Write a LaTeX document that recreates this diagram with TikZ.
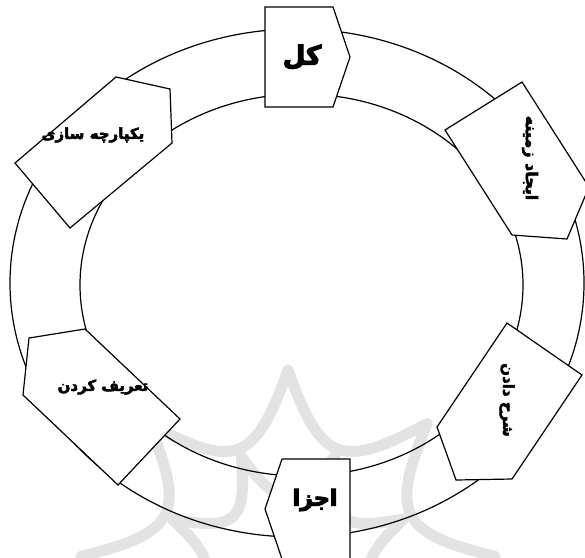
\documentclass[tikz,border=0pt]{standalone}
\usepackage{fontspec}
\usetikzlibrary{calc}
\newfontfamily\arabicfont[Script=Arabic,FakeBold=3.2]{DejaVu Sans Bold}
\newfontfamily\arabicbig[Script=Arabic,FakeBold=5]{DejaVu Sans Bold}
\TeXXeTstate=1
\tikzset{
  ring/.style={draw=black, line width=1.2pt},
  chevbox/.style={draw=black, fill=white, line width=1.2pt, line join=miter},
  lbl/.style={inner sep=0pt},
  wmark/.style={draw=black!11, line width=11pt, line join=round, line cap=round},
}
\newcommand{\lblfont}[1]{\arabicfont\fontsize{#1}{#1}\selectfont}
\newcommand{\lblbig}[1]{\arabicbig\fontsize{#1}{#1}\selectfont}
\begin{document}
\begin{tikzpicture}[x=1pt,y=-1pt]
\useasboundingbox (0,0) rectangle (585,557);
% faint background watermark (scalloped rosette)
\coordinate (wc) at (288,578);
\draw[wmark]
  ($(wc)+(-90-126:208)$) .. controls ($(wc)+(-90-110:120)$) and ($(wc)+(-90-100:120)$) ..
  ($(wc)+(-90-84:208)$) .. controls ($(wc)+(-90-68:120)$) and ($(wc)+(-90-58:120)$) ..
  ($(wc)+(-90-42:208)$) .. controls ($(wc)+(-90-26:120)$) and ($(wc)+(-90-16:120)$) ..
  ($(wc)+(-90:208)$) .. controls ($(wc)+(-90+16:120)$) and ($(wc)+(-90+26:120)$) ..
  ($(wc)+(-90+42:208)$) .. controls ($(wc)+(-90+58:120)$) and ($(wc)+(-90+68:120)$) ..
  ($(wc)+(-90+84:208)$) .. controls ($(wc)+(-90+100:120)$) and ($(wc)+(-90+110:120)$) ..
  ($(wc)+(-90+126:208)$);
\draw[wmark]
  ($(wc)+(-90-105:130)$) .. controls ($(wc)+(-90-90:70)$) and ($(wc)+(-90-78:70)$) ..
  ($(wc)+(-90-63:130)$) .. controls ($(wc)+(-90-48:70)$) and ($(wc)+(-90-36:70)$) ..
  ($(wc)+(-90-21:130)$) .. controls ($(wc)+(-90-8:70)$) and ($(wc)+(-90+8:70)$) ..
  ($(wc)+(-90+21:130)$) .. controls ($(wc)+(-90+36:70)$) and ($(wc)+(-90+48:70)$) ..
  ($(wc)+(-90+63:130)$) .. controls ($(wc)+(-90+78:70)$) and ($(wc)+(-90+90:70)$) ..
  ($(wc)+(-90+105:130)$);
% ring
\draw[ring] (297,283) ellipse [x radius=287, y radius=254];
\draw[ring] (301.5,285) ellipse [x radius=221.5, y radius=191];
% top box
\draw[chevbox] (265,7) -- (333,7) -- (350,57) -- (333,107) -- (265,107) -- cycle;
% upper right box
\draw[chevbox] (445,130) -- (522,82) -- (589,187) -- (567,239) -- (512,235) -- cycle;
% lower right box
\draw[chevbox] (507,323) -- (582,375) -- (512,479) -- (456,480) -- (437,427) -- cycle;
% bottom box
\draw[chevbox] (350,459) -- (350,559) -- (282,559) -- (265,509) -- (282,459) -- cycle;
% lower left box
\draw[chevbox] (180,419) -- (118,485) -- (23,395) -- (29,338) -- (85,329) -- cycle;
% upper left box
\draw[chevbox] (15,163) -- (116,77) -- (170,89) -- (172,143) -- (70,228) -- cycle;
% labels
\node[lbl, font=\lblbig{26}] (kol) at (302,57) {\beginR کل\endR};
\node[lbl, font=\lblfont{16}, rotate=-90] (ijad) at (530,158) {\beginR ایجاد زمینه\endR};
\node[lbl, font=\lblfont{15}, rotate=-90] (sharh) at (507,400) {\beginR شرح دادن\endR};
\node[lbl, font=\lblbig{22}] (ajza) at (315,500) {\beginR اجزا\endR};
\node[lbl, font=\lblfont{15}] (tarif) at (103,387) {\beginR تعریف کردن\endR};
\node[lbl, font=\lblfont{15}] (yek) at (93,135) {\beginR یکپارچه سازی\endR};
\end{tikzpicture}
\end{document}
